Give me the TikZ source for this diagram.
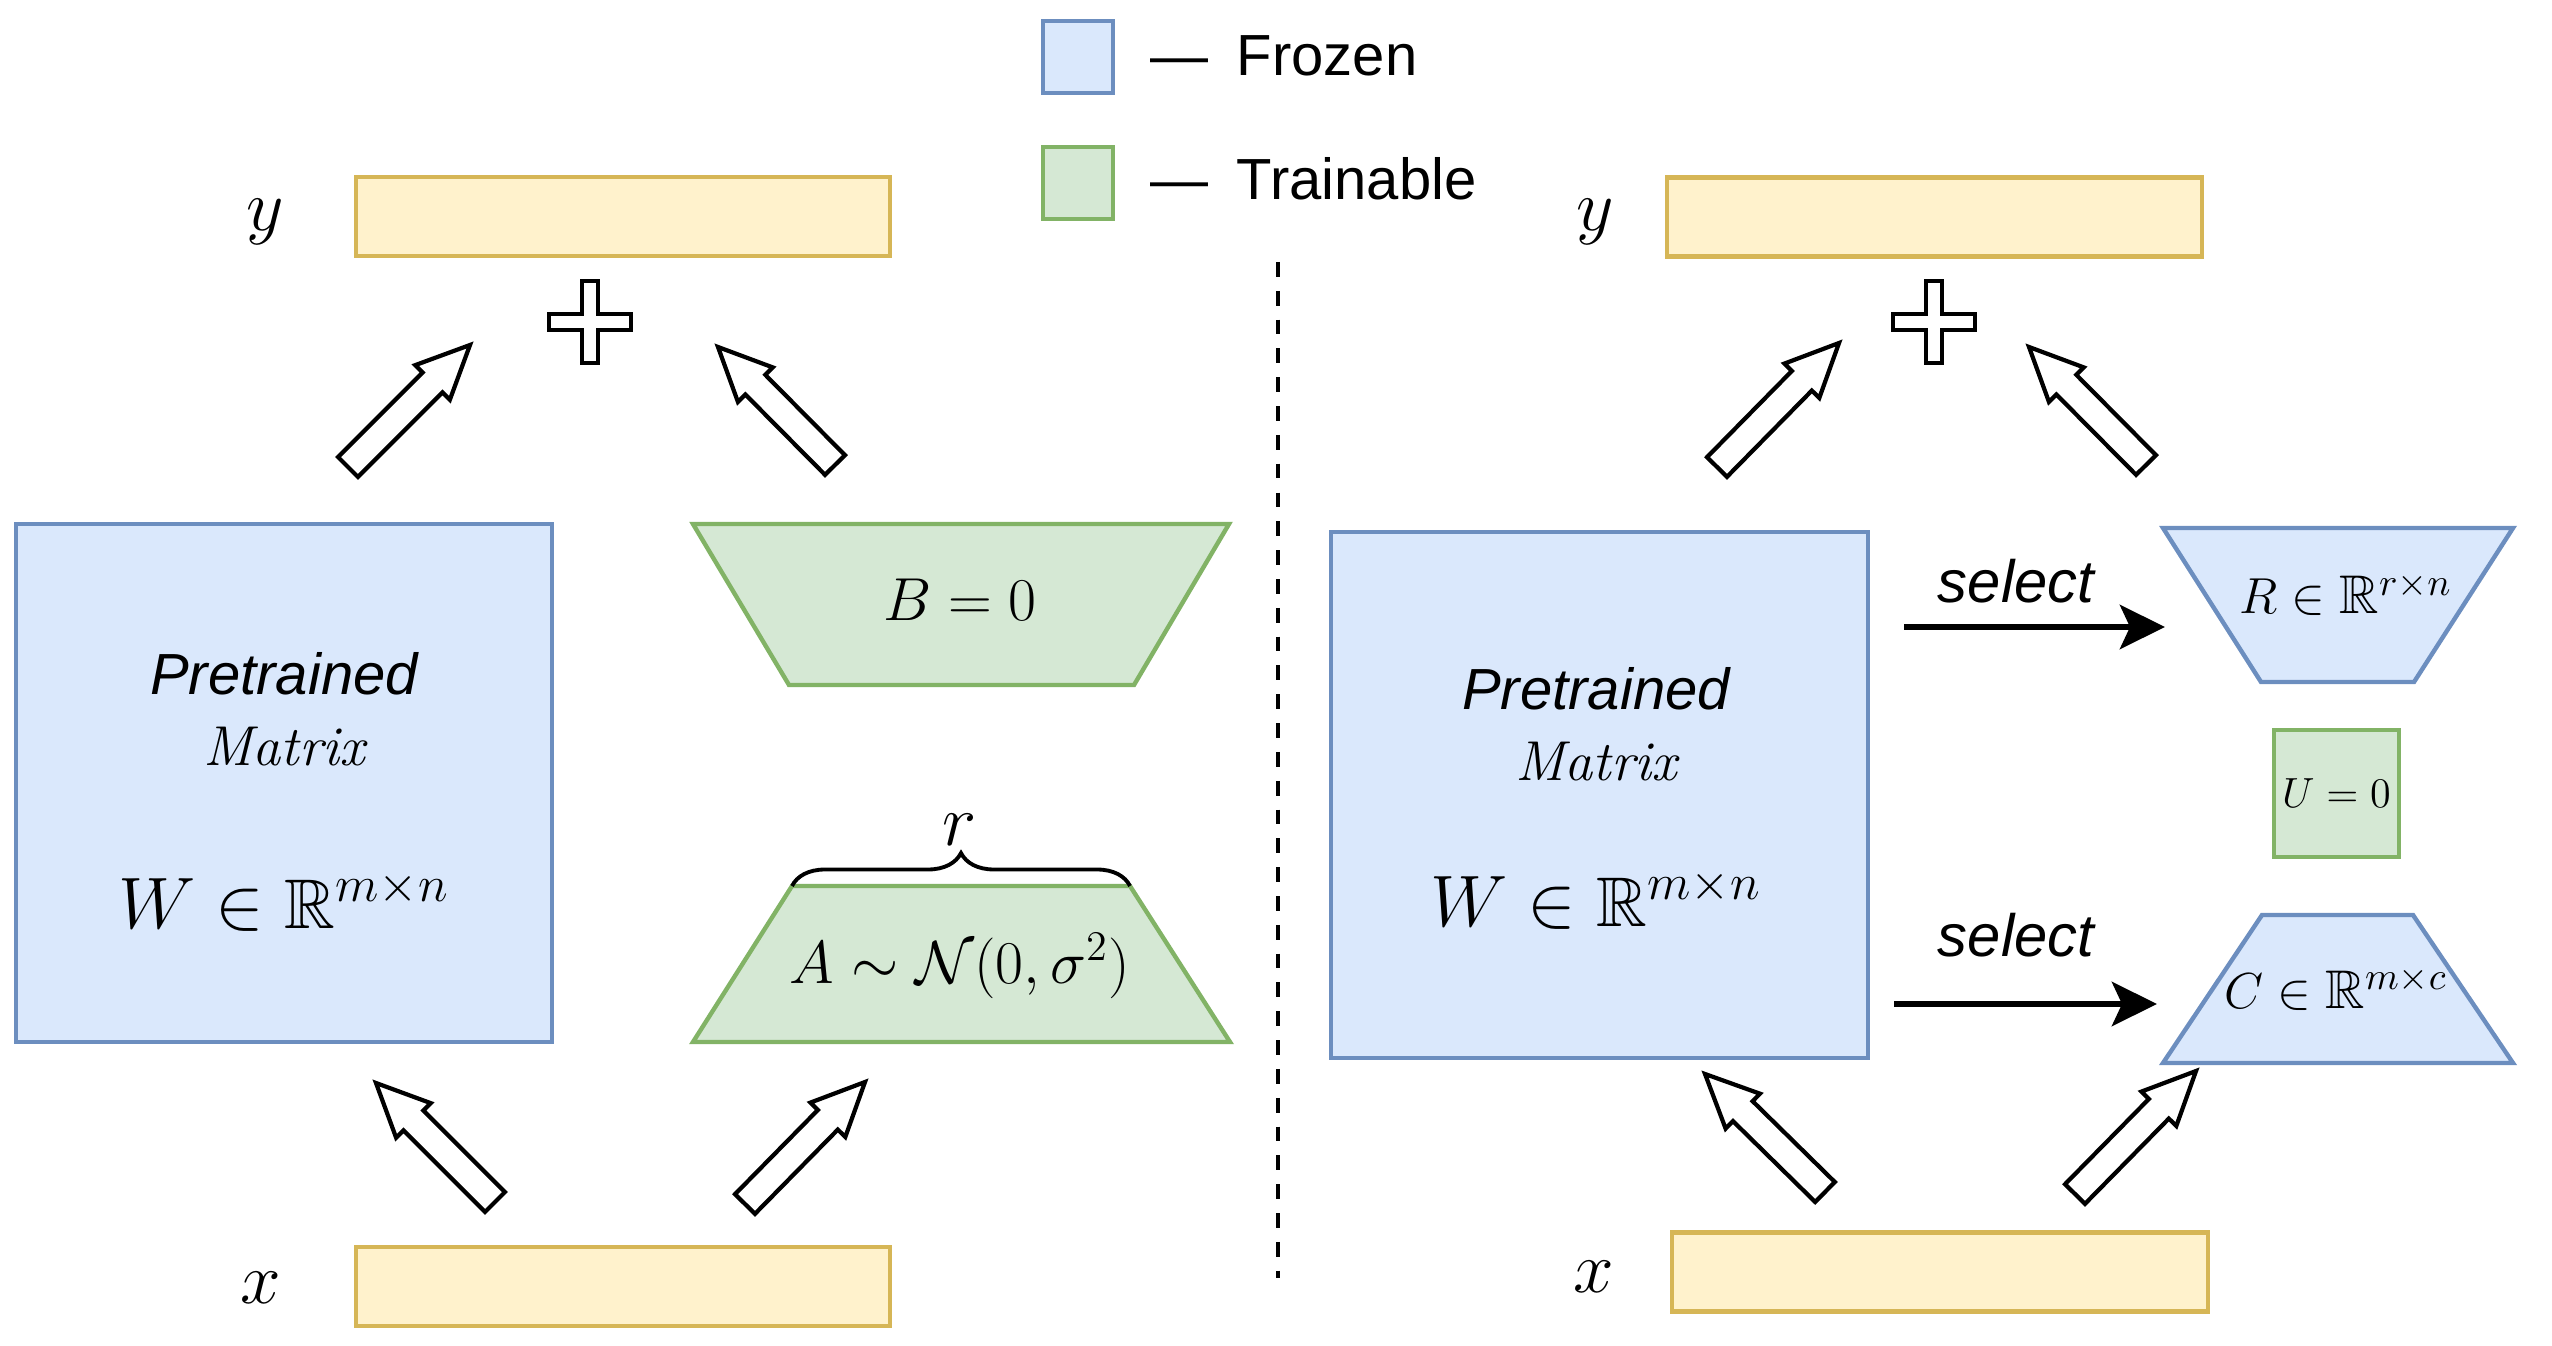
\documentclass[tikz,border=0pt]{standalone}
\usepackage{amsmath,amssymb}
\usepackage{fontspec}
\setsansfont{Liberation Sans}
\usepackage{tikz}
\usetikzlibrary{calc,arrows.meta,decorations.pathreplacing}

\definecolor{frozenfill}{HTML}{DAE8FC}
\definecolor{frozenline}{HTML}{6C8EBF}
\definecolor{trainfill}{HTML}{D5E8D4}
\definecolor{trainline}{HTML}{82B366}
\definecolor{vecfill}{HTML}{FFF2CC}
\definecolor{vecline}{HTML}{D6B656}

\tikzstyle{Frozen}=[fill=frozenfill, draw=frozenline, line width=1.25pt]
\tikzstyle{Trainable}=[fill=trainfill, draw=trainline, line width=1.25pt]
\tikzstyle{Vec}=[fill=vecfill, draw=vecline, line width=1.2pt, inner sep=0, minimum height=0.79cm]
\tikzstyle{Key}=[inner sep=0, minimum width=0.70cm, minimum height=0.72cm]
\tikzstyle{Fat}=[fill=white, draw=black, line width=1.2pt]
\tikzstyle{Select}=[-{Stealth[length=0.45cm,width=0.44cm,inset=0.1cm]}, line width=1.8pt]
\tikzstyle{Sans}=[inner sep=0, font=\sffamily\fontsize{16.5}{19}\selectfont]
\tikzstyle{SansIt}=[inner sep=0, font=\sffamily\itshape\fontsize{16.5}{19}\selectfont]
\tikzstyle{SerifIt}=[inner sep=0, font=\itshape\fontsize{16}{19}\selectfont]
\tikzstyle{MathL}=[inner sep=0, font=\fontsize{20}{24}\selectfont]
\tikzstyle{MathM}=[inner sep=0, font=\fontsize{18.7}{22}\selectfont]
\tikzstyle{MathS}=[inner sep=0, font=\fontsize{15.5}{18}\selectfont]
\tikzstyle{MathXS}=[inner sep=0, font=\fontsize{11.5}{14}\selectfont]

% hollow block arrow from #1 (tail) to #2 (tip)
\newcommand{\fatarrow}[2]{%
  \draw[Fat] ($(#1)!0.14cm!90:(#2)$)
    -- ($(#2)!0.53cm!(#1)!0.14cm!-90:(#1)$)
    -- ($(#2)!0.53cm!(#1)!0.245cm!-90:(#1)$)
    -- (#2)
    -- ($(#2)!0.53cm!(#1)!0.245cm!90:(#1)$)
    -- ($(#2)!0.53cm!(#1)!0.14cm!90:(#1)$)
    -- ($(#1)!0.14cm!-90:(#2)$) -- cycle;}
% hollow plus sign centred on #1
\newcommand{\crossat}[1]{%
  \draw[Fat, shift={(#1)}] (0.08,0.41) -- (0.08,0.08) -- (0.41,0.08) -- (0.41,-0.08)
    -- (0.08,-0.08) -- (0.08,-0.41) -- (-0.08,-0.41) -- (-0.08,-0.08) -- (-0.41,-0.08)
    -- (-0.41,0.08) -- (-0.08,0.08) -- (-0.08,0.41) -- cycle;}

\begin{document}
\begin{tikzpicture}[scale=1]
    \useasboundingbox (0,0) rectangle (25.52,-13.46);
    % legend
    \path
    (10.78,-0.57) node[Frozen, Key] (keyF) {}
    (10.78,-1.83) node[Trainable, Key] (keyT) {}
    (11.50,-0.555) node[Sans, anchor=west] (keyFtxt) {\textemdash\hspace{8pt}Frozen}
    (11.50,-1.79) node[Sans, anchor=west] (keyTtxt) {\textemdash\hspace{8pt}Trainable};

    % left: LoRA
    \path
    (6.23,-2.165) node[Vec, minimum width=5.34cm] (yL) {}
    (2.65,-2.22) node[MathL] (ylabL) {$y$}
    (6.23,-12.865) node[Vec, minimum width=5.34cm] (xL) {}
    (2.61,-12.88) node[MathL] (xlabL) {$x$}
    (2.84,-7.83) node[Frozen, minimum width=5.36cm, minimum height=5.18cm] (WL) {}
    (2.84,-6.94) node[SansIt, anchor=base] (WLname) {Pretrained}
    (2.84,-7.65) node[SerifIt, anchor=base] (WLsub) {Matrix}
    (2.84,-9.28) node[MathL, anchor=base] (WLdim) {$W \in \mathbb{R}^{m\times n}$};
    \draw[Trainable] (6.93,-5.24) -- (12.29,-5.24) -- (11.34,-6.85) -- (7.89,-6.85) -- cycle;
    \draw[Trainable] (7.92,-8.86) coordinate (Atl) -- (11.30,-8.86) coordinate (Atr)
        -- (12.30,-10.42) -- (6.93,-10.42) -- cycle;
    \path
    (9.60,-6.00) node[MathM] (Bmat) {$B = 0$}
    (9.60,-9.83) node[MathM, anchor=base] (Amat) {$A \sim \mathcal{N}(0,\sigma^2)$}
    (9.60,-8.30) node[MathL] (rank) {$r$};
    \draw[decorate, decoration={brace, amplitude=0.33cm}, line width=1.1pt] (Atl) -- (Atr);

    \coordinate (plusL) at (5.90,-3.22);
    \crossat{plusL}
    \path (3.48,-4.67) coordinate (lw0) (4.70,-3.45) coordinate (lw1)
          (8.35,-4.65) coordinate (lb0) (7.18,-3.47) coordinate (lb1)
          (4.95,-12.02) coordinate (lx0) (3.76,-10.83) coordinate (lx1)
          (7.45,-12.04) coordinate (la0) (8.65,-10.82) coordinate (la1);
    \fatarrow{lw0}{lw1}
    \fatarrow{lb0}{lb1}
    \fatarrow{lx0}{lx1}
    \fatarrow{la0}{la1}

    % divider
    \coordinate (divtop) at (12.78,-2.62);
    \coordinate (divbot) at (12.78,-12.78);
    \draw[dash pattern=on 4.2pt off 4pt, line width=1.4pt] (divtop) -- (divbot);

    % right: CUR
    \path
    (19.345,-2.17) node[Vec, minimum width=5.35cm] (yR) {}
    (15.95,-2.22) node[MathL] (ylabR) {$y$}
    (19.40,-12.72) node[Vec, minimum width=5.36cm] (xR) {}
    (15.94,-12.77) node[MathL] (xlabR) {$x$}
    (15.995,-7.95) node[Frozen, minimum width=5.37cm, minimum height=5.26cm] (WR) {}
    (15.96,-7.09) node[SansIt, anchor=base] (WRname) {Pretrained}
    (15.96,-7.80) node[SerifIt, anchor=base] (WRsub) {Matrix}
    (15.96,-9.26) node[MathL, anchor=base] (WRdim) {$W \in \mathbb{R}^{m\times n}$};
    \draw[Frozen] (21.63,-5.28) -- (25.13,-5.28) -- (24.14,-6.82) -- (22.61,-6.82) -- cycle;
    \draw[Frozen] (22.62,-9.15) -- (24.13,-9.15) -- (25.13,-10.63) -- (21.63,-10.63) -- cycle;
    \path
    (23.46,-6.14) node[MathS, anchor=base] (Rmat) {$R \in \mathbb{R}^{r\times n}$}
    (23.36,-10.08) node[MathS, anchor=base] (Cmat) {$C \in \mathbb{R}^{m\times c}$}
    (23.365,-7.935) node[Trainable, MathXS, minimum width=1.25cm, minimum height=1.27cm] (Umat) {$U = 0$}
    (20.16,-6.03) node[SansIt, anchor=base, font=\sffamily\itshape\fontsize{17}{20}\selectfont] (selR) {select}
    (20.16,-9.56) node[SansIt, anchor=base, font=\sffamily\itshape\fontsize{17}{20}\selectfont] (selC) {select};
    \path (19.04,-6.27) coordinate (sr0) (21.65,-6.27) coordinate (sr1)
          (18.94,-10.04) coordinate (sc0) (21.57,-10.04) coordinate (sc1);
    \draw[Select] (sr0) -- (sr1);
    \draw[Select] (sc0) -- (sc1);

    \coordinate (plusR) at (19.34,-3.22);
    \crossat{plusR}
    \path (17.17,-4.67) coordinate (rw0) (18.39,-3.43) coordinate (rw1)
          (21.46,-4.65) coordinate (rr0) (20.29,-3.47) coordinate (rr1)
          (18.25,-11.92) coordinate (rx0) (17.05,-10.74) coordinate (rx1)
          (20.75,-11.94) coordinate (rc0) (21.96,-10.71) coordinate (rc1);
    \fatarrow{rw0}{rw1}
    \fatarrow{rr0}{rr1}
    \fatarrow{rx0}{rx1}
    \fatarrow{rc0}{rc1}
\end{tikzpicture}
\end{document}
